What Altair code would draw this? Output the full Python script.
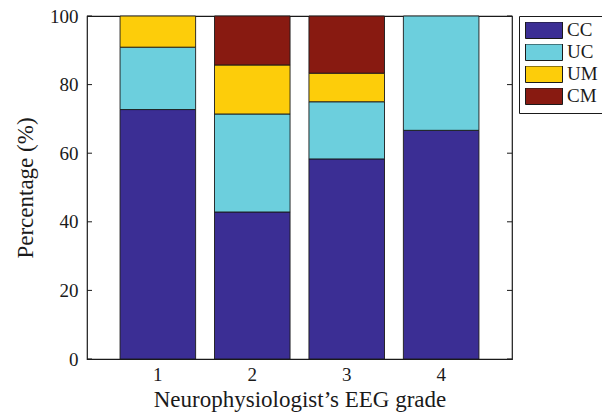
import altair as alt
import pandas as pd

grades = ["1", "2", "3", "4"]
groups = ["CC", "UC", "UM", "CM"]
cc = [72.73, 42.86, 58.33, 66.67]
uc = [18.18, 28.57, 16.67, 33.33]
um = [9.09, 14.29, 8.33, 0.0]
cm = [0.0, 14.29, 16.67, 0.0]
colors = ["#3b2e94", "#6ccfdd", "#fdcd0a", "#881a11"]
y_ticks = [0, 20, 40, 60, 80, 100]

rows = []
for gi, (name, vals) in enumerate(zip(groups, [cc, uc, um, cm])):
    for g, v in zip(grades, vals):
        rows.append({"grade": g, "group": name, "value": v, "idx": gi})
df = pd.DataFrame(rows)
tick_df = pd.DataFrame({"t": y_ticks})

W, H = 425, 343
serif = "Liberation Serif, Times New Roman, serif"

bars = alt.Chart(df).transform_filter("datum.value > 0").mark_bar(
    stroke="#1a1a1a", strokeWidth=0.9
).encode(
    x=alt.X("grade:N", sort=grades,
            scale=alt.Scale(paddingInner=0.2, paddingOuter=0.35),
            axis=alt.Axis(title="Neurophysiologist\u2019s EEG grade", labelAngle=0,
                          ticks=False, domain=False, labelPadding=6, titlePadding=4)),
    y=alt.Y("value:Q", stack="zero",
            scale=alt.Scale(domain=[0, 100], nice=False),
            axis=alt.Axis(title="Percentage (%)", values=y_ticks, ticks=False,
                          domain=False, grid=False, labelPadding=9, titlePadding=12)),
    color=alt.Color("group:N",
                    scale=alt.Scale(domain=groups, range=colors),
                    legend=alt.Legend(title=None, orient="none", legendX=W + 7, legendY=0,
                                      symbolType="M-1,-0.446H1V0.446H-1Z", symbolSize=1369,
                                      symbolStrokeColor="#1a1a1a", symbolStrokeWidth=1,
                                      symbolOpacity=1, clipHeight=16.5, rowPadding=2,
                                      labelOffset=4, labelFontSize=19, labelFont=serif,
                                      labelColor="#1a1a1a",
                                      strokeColor="#1a1a1a", padding=6, fillColor="white")),
    order=alt.Order("idx:Q", sort="ascending"),
)

left_ticks = alt.Chart(tick_df).mark_rule(color="#1a1a1a", strokeWidth=1).encode(
    y=alt.Y("t:Q"), x=alt.value(0), x2=alt.value(5)
)
right_ticks = alt.Chart(tick_df).mark_rule(color="#1a1a1a", strokeWidth=1).encode(
    y=alt.Y("t:Q"), x=alt.value(W - 5), x2=alt.value(W)
)

chart = alt.layer(bars, left_ticks, right_ticks).properties(
    width=W, height=H,
    autosize=alt.AutoSizeParams(type="none"),
    padding={"left": 87, "top": 16, "right": 90, "bottom": 57},
).configure_view(
    stroke="#1a1a1a", strokeWidth=1.2
).configure_axis(
    labelFont=serif, titleFont=serif, labelFontSize=19, titleFontSize=23,
    labelColor="#1a1a1a", titleColor="#1a1a1a", titleFontWeight="normal",
    grid=False
)

chart.save("out.html", embed_options={"renderer": "svg", "actions": False})
